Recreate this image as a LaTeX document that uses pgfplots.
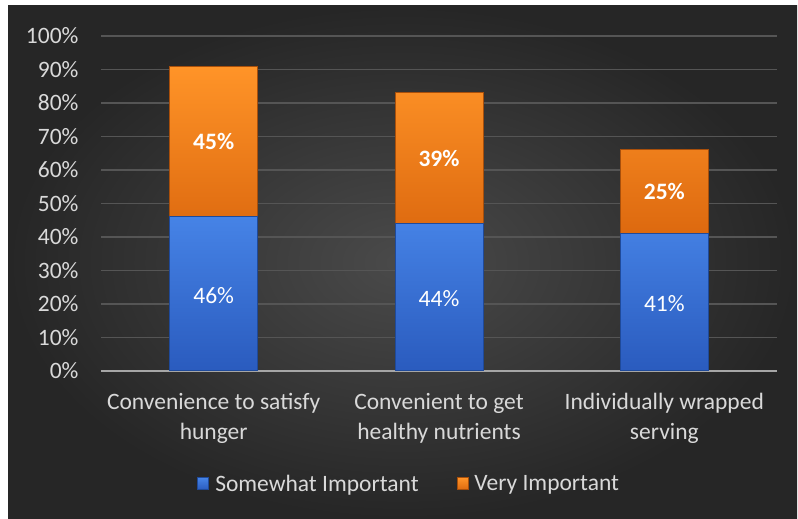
\documentclass[border=0pt]{standalone}
\usepackage{pgfplots}
\pgfplotsset{compat=1.18}
\usepackage{fontspec}
\setmainfont{Carlito}
\definecolor{bgdark}{HTML}{262626}
\definecolor{bglight}{HTML}{4A4A4A}
\definecolor{txt}{HTML}{D9D9D9}
\definecolor{gridc}{HTML}{555555}
\definecolor{axisc}{HTML}{A6A6A6}
\definecolor{blueT}{HTML}{4683E6}
\definecolor{blueM}{HTML}{3770D6}
\definecolor{blueB}{HTML}{2A5BBE}
\definecolor{blueE}{HTML}{1F4A9A}
\definecolor{orT}{HTML}{FF9428}
\definecolor{orM}{HTML}{F7801A}
\definecolor{orB}{HTML}{DD690F}
\definecolor{orE}{HTML}{A84F0B}
\begin{document}
\begin{tikzpicture}
\fill[white] (0pt,0pt) rectangle (798pt,519pt);
\shade[inner color=bglight, outer color=bgdark] (8pt,0pt) rectangle (797pt,513pt);
\begin{axis}[
  at={(101pt,148pt)}, anchor=south west,
  scale only axis, width=676pt, height=335pt,
  ybar stacked, bar width=88pt,
  xmin=-0.5, xmax=2.5, ymin=0, ymax=100,
  xtick={0,1,2},
  xticklabels={{Convenience to satisfy\\hunger},{Convenient to get\\healthy nutrients},{Individually wrapped\\serving}},
  xticklabel style={align=center, text=txt, font=\fontsize{23.5}{29.5}\selectfont, yshift=-19pt},
  ytick={0,10,...,100},
  yticklabel={\pgfmathprintnumber{\tick}\%},
  /pgf/number format/assume math mode=true,
  yticklabel style={text=txt, font=\fontsize{23.5}{25}\selectfont, xshift=-19pt},
  major tick length=0pt,
  ymajorgrids, grid style={gridc, line width=1.2pt},
  axis x line*=bottom, axis y line*=left,
  y axis line style={draw=none},
  x axis line style={axisc, line width=2.2pt, -},
  legend style={at={(0.456,-0.337)}, anchor=center, draw=none, fill=none,
    text=txt, font=\fontsize{23.5}{25}\selectfont, legend columns=2,
    /tikz/every odd column/.append style={column sep=4pt},
    /tikz/every even column/.append style={column sep=36pt}},
  legend image code/.code={\draw[#1, line width=0.8pt] (0pt,-6pt) rectangle (11pt,6pt);},
]
\addplot[top color=blueT, middle color=blueM, bottom color=blueB, draw=blueE, line width=1pt]
  coordinates {(0,46) (1,44) (2,41)};
\addlegendentry{Somewhat Important}
\addplot[top color=orT, middle color=orM, bottom color=orB, draw=orE, line width=1pt]
  coordinates {(0,45) (1,39) (2,25)};
\addlegendentry{Very Important}
\end{axis}
\begin{axis}[
  at={(101pt,148pt)}, anchor=south west,
  scale only axis, width=676pt, height=335pt,
  xmin=-0.5, xmax=2.5, ymin=0, ymax=100, hide axis,
  /pgf/number format/assume math mode=true,
]
\addplot[draw=none, mark=none, nodes near coords={\pgfmathprintnumber{\pgfplotspointmeta}\%},
  point meta=explicit,
  every node near coord/.append style={anchor=center, text=white, font=\fontsize{23.5}{25}\selectfont}]
  table[meta=v] {
x y v
0 22.5 46
1 21.5 44
2 20 41
};
\addplot[draw=none, mark=none, nodes near coords={\pgfmathprintnumber{\pgfplotspointmeta}\%},
  point meta=explicit,
  every node near coord/.append style={anchor=center, text=white, font=\bfseries\fontsize{23.5}{25}\selectfont}]
  table[meta=v] {
x y v
0 68.5 45
1 63.5 39
2 53.5 25
};
\end{axis}
\pgfresetboundingbox
\useasboundingbox (0pt,0pt) rectangle (798pt,519pt);
\end{tikzpicture}
\end{document}
